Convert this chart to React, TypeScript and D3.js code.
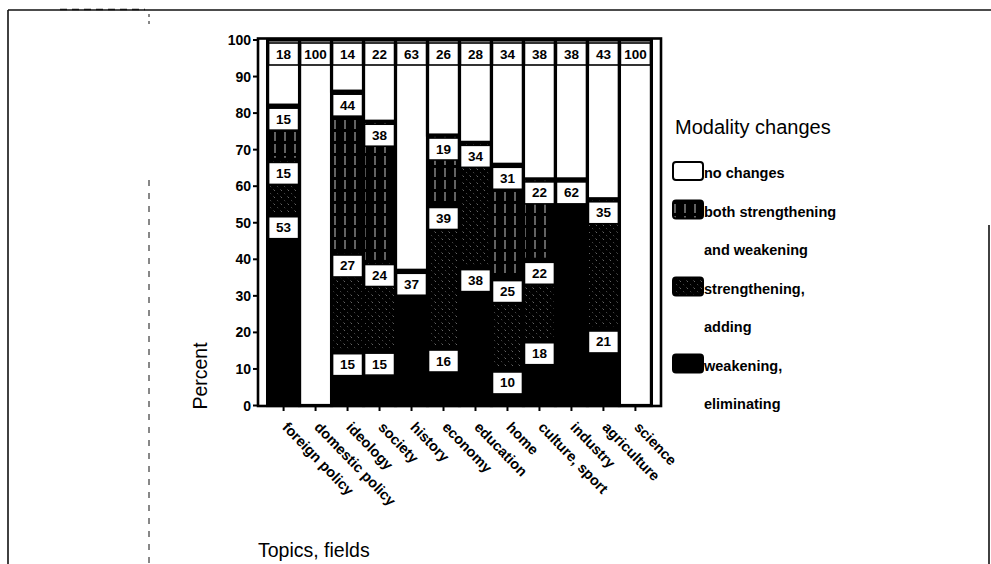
import React, { useEffect, useRef } from 'react';
import * as d3 from 'd3';

// Topics along the x axis
const categories = [
  'foreign policy',
  'domestic policy',
  'ideology',
  'society',
  'history',
  'economy',
  'education',
  'home',
  'culture, sport',
  'industry',
  'agriculture',
  'science',
];

// Percentages per topic, one array per modality change type
const weakening = [53, 0, 15, 15, 37, 16, 38, 10, 18, 62, 21, 0];
const strengthening = [15, 0, 27, 24, 0, 39, 34, 25, 22, 0, 35, 0];
const both = [15, 0, 44, 38, 0, 19, 0, 31, 22, 0, 0, 0];
const noChanges = [18, 100, 14, 22, 63, 26, 28, 34, 38, 38, 43, 100];

const yTicks = [0, 10, 20, 30, 40, 50, 60, 70, 80, 90, 100];

const seriesKeys = ['weakening', 'strengthening', 'both', 'noChanges'];

const legendTitle = 'Modality changes';
const legendItems = [
  { key: 'noChanges', lines: ['no changes'] },
  { key: 'both', lines: ['both strengthening', 'and weakening'] },
  { key: 'strengthening', lines: ['strengthening,', 'adding'] },
  { key: 'weakening', lines: ['weakening,', 'eliminating'] },
];

const xTitle = 'Topics, fields';
const yTitle = 'Percent';

const W = 991;
const H = 564;
const FONT = '"Liberation Sans", Arial, Helvetica, sans-serif';

const fills: Record<string, string> = {
  weakening: '#000',
  strengthening: 'url(#pat-str)',
  both: 'url(#pat-both)',
  noChanges: '#fff',
};

export default function App() {
  const ref = useRef<SVGSVGElement | null>(null);

  useEffect(() => {
    const svg = d3.select(ref.current);
    svg.selectAll('*').remove();

    // ---- patterns ----
    const defs = svg.append('defs');
    const pb = defs
      .append('pattern')
      .attr('id', 'pat-both')
      .attr('patternUnits', 'userSpaceOnUse')
      .attr('width', 10)
      .attr('height', 12);
    pb.append('rect').attr('width', 10).attr('height', 12).attr('fill', '#000');
    pb.append('line')
      .attr('x1', 5).attr('y1', 0).attr('x2', 5).attr('y2', 12)
      .attr('stroke', '#fff').attr('stroke-width', 1.1).attr('stroke-opacity', 0.7)
      .attr('stroke-dasharray', '9 3');

    const ps = defs
      .append('pattern')
      .attr('id', 'pat-str')
      .attr('patternUnits', 'userSpaceOnUse')
      .attr('width', 7)
      .attr('height', 7);
    ps.append('rect').attr('width', 7).attr('height', 7).attr('fill', '#000');
    ps.append('line')
      .attr('x1', 0.5).attr('y1', 0.5).attr('x2', 2).attr('y2', 2)
      .attr('stroke', '#777').attr('stroke-width', 0.85);
    ps.append('line')
      .attr('x1', 4).attr('y1', 4).attr('x2', 5.2).attr('y2', 5.2)
      .attr('stroke', '#5a5a5a').attr('stroke-width', 0.75);

    svg.append('rect').attr('width', W).attr('height', H).attr('fill', '#fff');

    // ---- page border lines ----
    const page = svg.append('g').attr('stroke', '#111').attr('fill', 'none');
    page.append('line').attr('x1', 8).attr('y1', 10).attr('x2', W).attr('y2', 10).attr('stroke-width', 1.6);
    page.append('line').attr('x1', 60).attr('y1', 9.5).attr('x2', 145).attr('y2', 9.5)
      .attr('stroke-width', 1.6).attr('stroke-dasharray', '7 5');
    page.append('line').attr('x1', 8).attr('y1', 10).attr('x2', 8).attr('y2', H).attr('stroke-width', 1.6);
    page.append('line').attr('x1', 989).attr('y1', 225).attr('x2', 989).attr('y2', H).attr('stroke-width', 1.6);
    page.append('line').attr('x1', 149).attr('y1', 14).attr('x2', 149).attr('y2', 28)
      .attr('stroke-width', 1).attr('stroke-dasharray', '3 4');
    page.append('line').attr('x1', 149).attr('y1', 180).attr('x2', 149).attr('y2', H)
      .attr('stroke-width', 1).attr('stroke-dasharray', '6 7');

    // ---- scales ----
    const x = d3
      .scaleBand<string>()
      .domain(categories)
      .range([258, 661])
      .paddingInner(0)
      .paddingOuter(0.3);
    const y = d3.scaleLinear().domain([0, 100]).range([405.5, 40]);

    const rows = categories.map((c, i) => ({
      cat: c,
      weakening: weakening[i],
      strengthening: strengthening[i],
      both: both[i],
      noChanges: noChanges[i],
    }));
    const raw: Record<string, number[]> = { weakening, strengthening, both, noChanges };

    const stacked = d3
      .stack<any>()
      .keys(seriesKeys)
      .offset(d3.stackOffsetExpand)(rows);

    const bw = x.bandwidth();

    // ---- bar segments ----
    const gBars = svg.append('g');
    stacked.forEach((layer) => {
      const key = layer.key;
      layer.forEach((d, i) => {
        if (raw[key][i] <= 0) return;
        const y0 = d[0] * 100;
        const y1 = d[1] * 100;
        gBars
          .append('rect')
          .attr('x', x(categories[i])!)
          .attr('y', y(y1))
          .attr('width', bw)
          .attr('height', y(y0) - y(y1))
          .attr('fill', fills[key])
          .attr('stroke', '#000')
          .attr('stroke-width', 3.2);
      });
    });

    // ---- value labels at the top of each segment ----
    const gLab = svg.append('g');
    stacked.forEach((layer) => {
      const key = layer.key;
      layer.forEach((d, i) => {
        const v = raw[key][i];
        if (v <= 0) return;
        const top = y(d[1] * 100) + 3;
        const bx = x(categories[i])! + 1;
        gLab
          .append('rect')
          .attr('x', bx)
          .attr('y', top)
          .attr('width', bw - 2)
          .attr('height', 22)
          .attr('fill', '#fff')
          .attr('stroke', '#000')
          .attr('stroke-width', 1.6);
        gLab
          .append('text')
          .attr('x', bx + (bw - 2) / 2)
          .attr('y', top + 11)
          .attr('text-anchor', 'middle')
          .attr('dominant-baseline', 'central')
          .attr('font-family', FONT)
          .attr('font-weight', 'bold')
          .attr('font-size', 13.5)
          .attr('fill', '#000')
          .text(String(v));
      });
    });

    // ---- plot frame ----
    svg
      .append('rect')
      .attr('x', 258)
      .attr('y', 38.5)
      .attr('width', 661 - 258)
      .attr('height', 406 - 38.5)
      .attr('fill', 'none')
      .attr('stroke', '#000')
      .attr('stroke-width', 2.6);

    // ---- y axis ----
    const gy = svg.append('g');
    yTicks.forEach((t) => {
      gy.append('line')
        .attr('x1', 253).attr('x2', 258)
        .attr('y1', y(t)).attr('y2', y(t))
        .attr('stroke', '#000').attr('stroke-width', 2);
      gy.append('text')
        .attr('x', 251)
        .attr('y', y(t))
        .attr('text-anchor', 'end')
        .attr('dominant-baseline', 'central')
        .attr('font-family', FONT)
        .attr('font-weight', 'bold')
        .attr('font-size', 14)
        .text(String(t));
    });

    // ---- x axis ----
    const gx = svg.append('g');
    categories.forEach((c) => {
      const cx = x(c)! + bw / 2;
      gx.append('line')
        .attr('x1', cx).attr('x2', cx)
        .attr('y1', 406).attr('y2', 411)
        .attr('stroke', '#000').attr('stroke-width', 2);
      gx.append('text')
        .attr('transform', `translate(${cx - 2},${428}) rotate(46)`)
        .attr('text-anchor', 'start')
        .attr('font-family', FONT)
        .attr('font-weight', 'bold')
        .attr('font-size', 14.5)
        .text(c);
    });

    // ---- axis titles ----
    svg.append('text')
      .attr('x', 258)
      .attr('y', 557)
      .attr('font-family', FONT)
      .attr('font-size', 19.5)
      .text(xTitle);
    svg.append('text')
      .attr('transform', 'translate(207,376) rotate(-90)')
      .attr('text-anchor', 'middle')
      .attr('font-family', FONT)
      .attr('font-size', 19.5)
      .text(yTitle);

    // ---- legend ----
    const gL = svg.append('g');
    gL.append('text')
      .attr('x', 675)
      .attr('y', 134)
      .attr('font-family', FONT)
      .attr('font-size', 20)
      .text(legendTitle);
    const lineY = (k: number) => 173 + k * 38.5;
    let line = 0;
    legendItems.forEach((item) => {
      const cy = lineY(line);
      gL.append('rect')
        .attr('x', 673)
        .attr('y', cy - 11)
        .attr('width', 30)
        .attr('height', 18)
        .attr('rx', 3)
        .attr('fill', fills[item.key])
        .attr('stroke', '#000')
        .attr('stroke-width', 2);
      item.lines.forEach((t, j) => {
        gL.append('text')
          .attr('x', 704)
          .attr('y', lineY(line + j))
          .attr('dominant-baseline', 'central')
          .attr('font-family', FONT)
          .attr('font-weight', 'bold')
          .attr('font-size', 14.5)
          .text(t);
      });
      line += item.lines.length;
    });
  }, []);

  return (
    <svg
      ref={ref}
      width={W}
      height={H}
      style={{ position: 'absolute', left: 0, top: 0, display: 'block' }}
    />
  );
}
